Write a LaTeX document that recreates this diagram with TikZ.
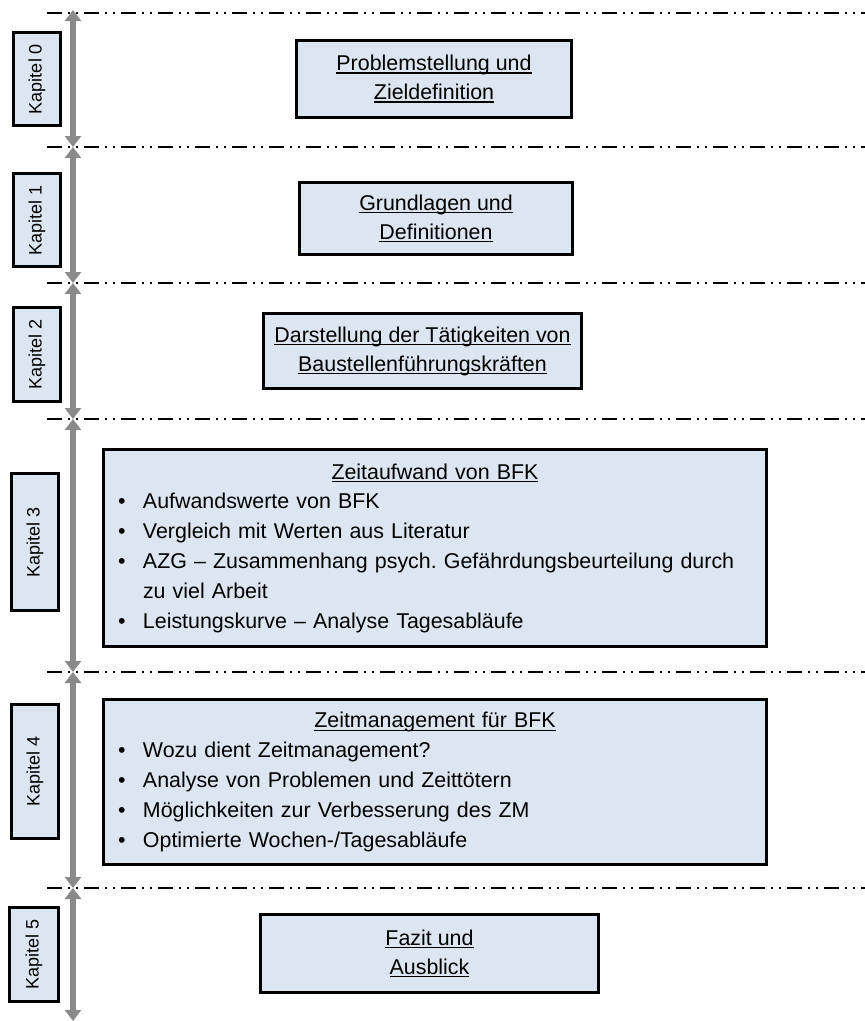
\documentclass[tikz,border=0pt]{standalone}
\usepackage{fontspec}
\setmainfont{Liberation Sans}
\usetikzlibrary{arrows.meta}
\definecolor{boxfill}{HTML}{DCE6F2}
\definecolor{axisgray}{HTML}{8A8A8A}
\frenchspacing
% underlined text with a rule slightly below the baseline
\newcommand\ulx[1]{\setbox0\hbox{#1}\rlap{\rule[-3pt]{\wd0}{1.4pt}}\box0}
% bullet line with hanging indent
\newcommand\bitem{\par\hangindent=28pt\hangafter=1\noindent\makebox[28pt][l]{\hspace{3pt}\textbullet}}
\begin{document}
\begin{tikzpicture}[x=1pt,y=-1pt,
  chap/.style={draw=black, line width=3.5pt, fill=boxfill, rotate=90,
    font=\fontsize{18pt}{21pt}\selectfont, inner sep=0pt},
  topic/.style={draw=black, line width=3.5pt, fill=boxfill,
    font=\fontsize{21.4pt}{29pt}\selectfont, align=center, inner sep=0pt},
  listbox/.style={draw=black, line width=3.5pt, fill=boxfill,
    font=\fontsize{21.4pt}{29.8pt}\selectfont, inner sep=0pt},
  sep/.style={line width=2.8pt, dash pattern=on 15pt off 6pt on 2pt off 6pt on 2pt off 6pt},
  span/.style={draw=axisgray, line width=6.5pt,
    {Triangle[width=16pt,length=11pt]}-{Triangle[width=16pt,length=11pt]}}
]
\useasboundingbox (0,0) rectangle (865,1021);

% chapter separators
\foreach \y [count=\i] in {13,147,283,419,672,888}{
  \coordinate (sl\i) at (47,\y);
  \coordinate (sr\i) at (865,\y);
  \draw[sep] (sl\i) -- (sr\i);
}

% time axis, one double arrow per chapter
\coordinate (a0) at (73,10);
\coordinate (a1) at (73,147);
\coordinate (a2) at (73,283);
\coordinate (a3) at (73,419);
\coordinate (a4) at (73,672);
\coordinate (a5) at (73,888);
\coordinate (a6) at (73,1021);
\draw[span] (a0) -- (a1);
\draw[span] (a1) -- (a2);
\draw[span] (a2) -- (a3);
\draw[span] (a3) -- (a4);
\draw[span] (a4) -- (a5);
\draw[span] (a5) -- (a6);

% chapter labels
\node[chap, minimum width=93pt, minimum height=47pt] (k0) at (37,79) {Kapitel 0};
\node[chap, minimum width=93pt, minimum height=47pt] (k1) at (37,220) {Kapitel 1};
\node[chap, minimum width=94pt, minimum height=47pt] (k2) at (37,354.5) {Kapitel 2};
\node[chap, minimum width=137pt, minimum height=47pt] (k3) at (35,542) {Kapitel 3};
\node[chap, minimum width=134pt, minimum height=47pt] (k4) at (35,771.5) {Kapitel 4};
\node[chap, minimum width=94pt, minimum height=49pt] (k5) at (34,954.5) {Kapitel 5};

% chapter contents
\node[topic, minimum width=275pt, minimum height=77pt] (b0) at (434,79)
  {\ulx{Problemstellung und}\\\ulx{Zieldefinition}};
\node[topic, minimum width=273pt, minimum height=72pt] (b1) at (436,218.5)
  {\ulx{Grundlagen und}\\\ulx{Definitionen}};
\node[topic, minimum width=318pt, minimum height=75pt] (b2) at (422.5,351)
  {\ulx{Darstellung der Tätigkeiten von}\\\ulx{Baustellenführungskräften}};

\node[listbox, minimum width=663pt, minimum height=197pt, text width=640pt] (b3) at (435,548)
  {\raggedright\makebox[640pt]{\ulx{Zeitaufwand von BFK}}
   \bitem Aufwandswerte von BFK
   \bitem Vergleich mit Werten aus Literatur
   \bitem AZG – Zusammenhang psych. Gefährdungsbeurteilung durch\newline zu viel Arbeit
   \bitem Leistungskurve – Analyse Tagesabläufe\par};

\node[listbox, minimum width=663pt, minimum height=165pt, text width=640pt] (b4) at (435,782)
  {\raggedright\makebox[640pt]{\ulx{Zeitmanagement für BFK}}
   \bitem Wozu dient Zeitmanagement?
   \bitem Analyse von Problemen und Zeittötern
   \bitem Möglichkeiten zur Verbesserung des ZM
   \bitem Optimierte Wochen-/Tagesabläufe\par};

\node[topic, minimum width=338pt, minimum height=78pt] (b5) at (429.5,953.5)
  {\ulx{Fazit und}\\\ulx{Ausblick}};
\end{tikzpicture}
\end{document}
